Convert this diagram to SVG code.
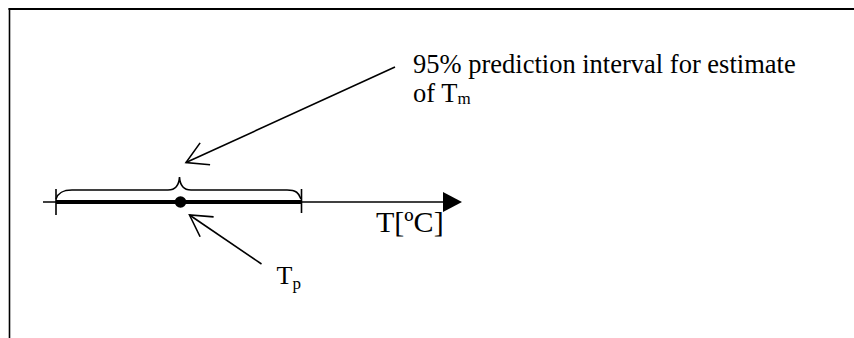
<svg xmlns="http://www.w3.org/2000/svg" width="854" height="338" viewBox="0 0 854 338">
<style>
.t{font-family:"Liberation Serif","Times New Roman",serif;fill:#000}
.ln{stroke:#000;fill:none}
</style>
<defs>
<marker id="open" markerWidth="26" markerHeight="26" refX="22" refY="13" orient="auto" markerUnits="userSpaceOnUse">
<path d="M1,1 L22,13 L1,25" fill="none" stroke="#000" stroke-width="1.6"/>
</marker>
<marker id="solid" markerWidth="20" markerHeight="22" refX="0" refY="10" orient="auto" markerUnits="userSpaceOnUse">
<path d="M0,0 L19,10 L0,20 Z" fill="#000"/>
</marker>
</defs>
<rect width="854" height="338" fill="#fff"/>
<g id="frame">
<line class="ln" x1="8.5" y1="9" x2="854" y2="9" stroke-width="2.2"/>
<line class="ln" x1="9.5" y1="8" x2="9.5" y2="338" stroke-width="1.6"/>
</g>
<g id="axis">
<line class="ln" x1="43" y1="202" x2="443" y2="202" stroke-width="1.6" marker-end="url(#solid)"/>
<line class="ln" x1="56" y1="202" x2="301" y2="202" stroke-width="4"/>
<line class="ln" x1="56" y1="189" x2="56" y2="215" stroke-width="1.6"/>
<line class="ln" x1="301.5" y1="189" x2="301.5" y2="213" stroke-width="1.6"/>
<path class="ln" stroke-width="1.6" d="M56,199 C58,193 62,190 72,190 L168,190 C175,190 179,186 179.5,177 C180,186 184,190 191,190 L287,190 C296,190 299,193 301,199"/>
<text class="t" x="376" y="232" font-size="30">T[ºC]</text>
</g>
<g id="tp">
<circle cx="180.5" cy="202" r="5.8" fill="#000"/>
<text class="t" x="276.5" y="284" font-size="26">T<tspan font-size="17" dy="5">p</tspan></text>
</g>
<g id="interval-label">
<text class="t" x="413" y="73" font-size="26.5">95% prediction interval for estimate</text>
<text class="t" x="413" y="102" font-size="26.5">of T<tspan font-size="17" dy="2">m</tspan></text>
</g>
<g id="connectors">
<line class="ln" x1="395" y1="67" x2="186" y2="162.5" stroke-width="1.6" marker-end="url(#open)"/>
<line class="ln" x1="261.5" y1="264" x2="189.5" y2="215" stroke-width="1.6" marker-end="url(#open)"/>
</g>
</svg>
